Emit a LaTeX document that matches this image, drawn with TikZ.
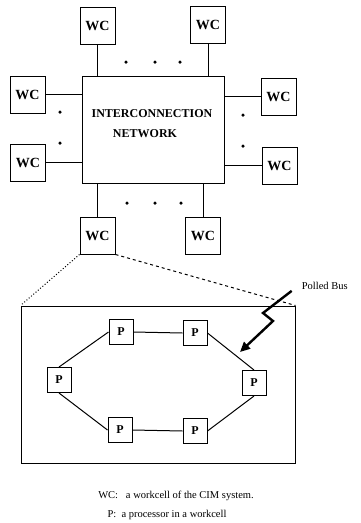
\documentclass[tikz,border=0pt]{standalone}
\usepackage{fontspec}
\setmainfont{Liberation Serif}
\usetikzlibrary{arrows.meta}

\begin{document}
\begin{tikzpicture}[x=1pt,y=-1pt,line width=1pt,
    wcbox/.style={draw,fill=white,minimum width=35pt,minimum height=37pt,inner sep=0pt,font=\fontsize{14}{16}\selectfont\bfseries},
    pbox/.style={draw,fill=white,minimum width=24pt,minimum height=25pt,inner sep=0pt,font=\fontsize{12}{14}\selectfont\bfseries},
    contdot/.style={circle,fill,inner sep=0pt,minimum size=3.5pt},
    note/.style={font=\fontsize{10.5}{12}\selectfont}]
      \useasboundingbox (0,0) rectangle (360,523);
      % interconnection network and its workcells
      \node[draw,minimum width=142pt,minimum height=107pt] (net) at (153,129.5) {};
      \node[align=center,font=\fontsize{12}{22}\selectfont\bfseries] (nettext) at (152,124) {INTERCONNECTION\\[-2pt]\hspace*{-14pt}NETWORK};
      \node[wcbox] (wctl) at (97.5,25.5) {WC};
      \node[wcbox] (wctr) at (208,24.5) {WC};
      \node[wcbox] (wclt) at (27.5,94.5) {WC};
      \node[wcbox] (wclb) at (28,162.5) {WC};
      \node[wcbox] (wcrt) at (278.5,96.5) {WC};
      \node[wcbox] (wcrb) at (279.5,165.5) {WC};
      \node[wcbox] (wcbl) at (97.5,235.5) {WC};
      \node[wcbox] (wcbr) at (203,235.5) {WC};
      \draw (wctl.south) -- (wctl.south |- net.north);
      \draw (wctr.south) -- (wctr.south |- net.north);
      \draw (wclt.east) -- (wclt.east -| net.west);
      \draw (wclb.east) -- (wclb.east -| net.west);
      \draw (wcrt.west) -- (wcrt.west -| net.east);
      \draw (wcrb.west) -- (wcrb.west -| net.east);
      \draw (wcbl.north) -- (wcbl.north |- net.south);
      \draw (wcbr.north) -- (wcbr.north |- net.south);
      % ellipsis dots
      \foreach \x in {126,155,180} \node[contdot] at (\x,62) {};
      \foreach \x in {127,155,181} \node[contdot] at (\x,203) {};
      \foreach \y in {112,143} \node[contdot] at (60,\y) {};
      \foreach \y in {115,146} \node[contdot] at (243,\y) {};
      % one workcell, enlarged
      \node[draw,minimum width=274pt,minimum height=157pt] (cell) at (158,384.5) {};
      \draw[dotted] (wcbl.south west) -- (cell.north west);
      \draw[dashed] (wcbl.south east) -- (cell.north east);
      \node[pbox] (p1) at (121,332) {P};
      \node[pbox] (p2) at (195,333) {P};
      \node[pbox] (p3) at (59,380) {P};
      \node[pbox] (p4) at (254,383) {P};
      \node[pbox] (p5) at (120,430) {P};
      \node[pbox] (p6) at (195,431) {P};
      \draw (p1.east) -- (p2.west);
      \draw (p1.west) -- (p3.north);
      \draw (p2.east) -- (p4.north);
      \draw (p3.south) -- (p5.west);
      \draw (p4.south) -- (p6.east);
      \draw (p5.east) -- (p6.west);
      % polled bus pointer
      \node[note,anchor=west] (bus) at (298,286) {Polled Bus};
      \coordinate (zza) at (263,313);
      \coordinate (zzb) at (273,321);
      \coordinate (bustip) at (240,352);
      \draw[line width=2.4pt,-{Triangle[length=10pt,width=9pt]},shorten <=8pt] (bus.west) -- (zza) -- (zzb) -- (bustip);
      % legend
      \node[note] (legwc) at (176,496) {WC:\ \ \ a workcell of the CIM system.};
      \node[note] (legp) at (167,515) {P:\ \ a processor in a workcell};
    \end{tikzpicture}
\end{document}
